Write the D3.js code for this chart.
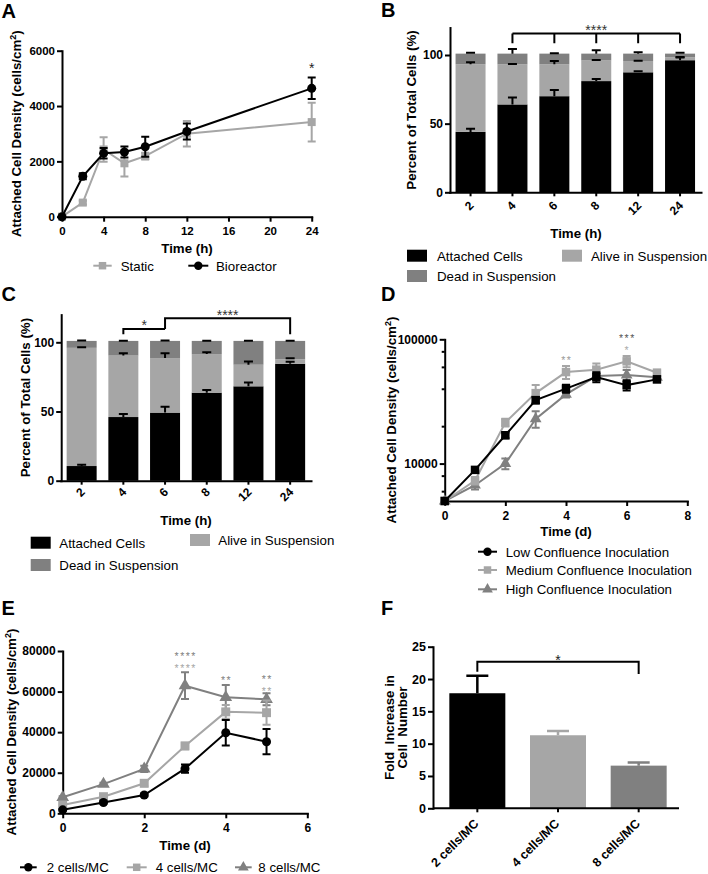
<!DOCTYPE html>
<html><head><meta charset="utf-8">
<script src="https://cdn.jsdelivr.net/npm/d3@7"></script>
<style>
body{margin:0;background:#fff;}
svg{display:block;}
</style></head><body>
<svg id="fig" width="708" height="874"></svg>
<script>
// ================= DATA =================
// Panel A
const timeA = [0, 2, 4, 6, 8, 12, 24];
const staticA = [0, 510, 2430, 1930, 2190, 3000, 3420];
const staticErrA = [0, 70, 440, 480, 120, 460, 700];
const bioA = [0, 1460, 2290, 2340, 2530, 3080, 4640];
const bioErrA = [0, 110, 190, 200, 360, 290, 390];
const xTicksA = [0, 4, 8, 12, 16, 20, 24];
const yTicksA = [0, 2000, 4000, 6000];

// Panel B (stacked %, segment heights)
const timeCats = ["2", "4", "6", "8", "12", "24"];
const attachedB = [44, 64, 70, 81, 87.4, 96.2];
const attachedErrB = [2.2, 5, 4.5, 1.5, 0.8, 2];
const aliveB = [49.2, 29.2, 23.2, 15, 8.2, 2.1];
const aliveErrB = [1.5, 0.3, 2.4, 0.3, 0.3, 0.2];
const deadB = [7.8, 7.8, 7.8, 5, 5.4, 2.7];
const deadErrB = [0.7, 3.4, 0.3, 2.4, 1, 0.7];

// Panel C
const attachedC = [10.6, 46, 49.2, 63.6, 68.2, 84.5];
const attachedErrC = [1, 2.2, 4.3, 1.9, 2.8, 1.5];
const aliveC = [85.4, 44.4, 39.4, 27.9, 15.6, 3.2];
const aliveErrC = [0.5, 1.7, 3.5, 1.4, 2.4, 0.7];
const deadC = [5, 10.6, 12.4, 9.5, 17.2, 13.3];
const deadErrC = [0.3, 0.2, 0.3, 0.2, 0.2, 0.2];
const yTicksPct = [0, 50, 100];

// Panel D (log scale)
const timeD = [0, 1, 2, 3, 4, 5, 6, 7];
const lowD = [5000, 8900, 16900, 32400, 40100, 49700, 42800, 47600];
const lowErrD = [0, 500, 900, 2000, 3000, 4500, 4000, 2500];
const medD = [5000, 7300, 21400, 36900, 54500, 57000, 66500, 53800];
const medErrD = [0, 500, 1500, 6000, 6500, 7000, 7000, 3000];
const highD = [5000, 6700, 10000, 22900, 36000, 50600, 51500, 49400];
const highErrD = [0, 500, 1000, 3500, 2000, 3000, 5000, 2500];
const xTicksD = [0, 2, 4, 6, 8];
const yTicksD = [10000, 100000];
const yMinorD = [6000, 8000, 20000, 40000, 60000, 80000];

// Panel E
const timeE = [0, 1, 2, 3, 4, 5];
const c2E = [1700, 5300, 9000, 22000, 39700, 35300];
const c2ErrE = [300, 500, 700, 2000, 6300, 6200];
const c4E = [4100, 8200, 14800, 33200, 50000, 49600];
const c4ErrE = [400, 700, 1500, 1600, 3400, 6000];
const c8E = [7900, 14400, 21900, 62900, 57200, 56200];
const c8ErrE = [500, 600, 1500, 6600, 6000, 3000];
const xTicksE = [0, 2, 4, 6];
const yTicksE = [0, 20000, 40000, 60000, 80000];

// Panel F
const groupsF = ["2 cells/MC", "4 cells/MC", "8 cells/MC"];
const foldF = [17.8, 11.3, 6.6];
const foldErrF = [2.7, 0.66, 0.5];
const yTicksF = [0, 5, 10, 15, 20, 25];

// ================= DRAWING =================
const FONT = '"Liberation Sans", Arial, Helvetica, sans-serif';
const BLACK = "#000", LIGHT = "#a6a6a6", MID = "#808080";
const svg = d3.select("#fig").attr("font-family", FONT);

function addAxis(axis, tx, ty, fs) {
  const a = svg.append("g").attr("transform", `translate(${tx},${ty})`).call(axis);
  a.attr("font-family", FONT).attr("font-size", fs).attr("font-weight", "bold");
  a.select(".domain").attr("stroke", "#000").attr("stroke-width", 2).attr("stroke-linecap", "square");
  a.selectAll(".tick line").attr("stroke", "#000").attr("stroke-width", 2);
  a.selectAll(".tick text").attr("fill", "#000");
  return a;
}
function label(x, y, t) {
  svg.append("text").attr("x", x).attr("y", y).attr("font-size", 20).attr("font-weight", "bold").text(t);
}
function xTitle(x, y, t) {
  svg.append("text").attr("x", x).attr("y", y).attr("text-anchor", "middle")
    .attr("font-size", 13.3).attr("font-weight", "bold").text(t);
}
function yTitle(x, y, t, sup) {
  const tx = svg.append("text").attr("transform", `translate(${x},${y}) rotate(-90)`)
    .attr("text-anchor", "middle").attr("font-size", 13.3).attr("font-weight", "bold");
  tx.append("tspan").text(t);
  if (sup) {
    tx.append("tspan").attr("dy", -5).attr("font-size", 9).text("2");
    tx.append("tspan").attr("dy", 5).text(")");
  }
}
// significance asterisks; centerY = visual centre of the asterisk glyphs
function stars(x, centerY, s, color, fs, ls) {
  fs = fs || 14; ls = ls || 0;
  svg.append("text").attr("x", x + ls / 2).attr("y", centerY + 0.57 * fs).attr("text-anchor", "middle")
    .attr("font-size", fs).attr("letter-spacing", ls).attr("fill", color).text(s);
}
function bracket(d) {
  svg.append("path").attr("d", d).attr("fill", "none").attr("stroke", "#000").attr("stroke-width", 2);
}
function series(xs, ys, errs, x, y, color, shape, area, capW) {
  const g = svg.append("g");
  g.append("path").datum(ys.map((v, i) => [xs[i], v]))
    .attr("d", d3.line().x(d => x(d[0])).y(d => y(d[1])))
    .attr("fill", "none").attr("stroke", color).attr("stroke-width", 2);
  ys.forEach((v, i) => {
    const e = errs[i]; if (!e) return;
    const cx = x(xs[i]), yt = y(v + e), yb = y(v - e), h = capW / 2;
    g.append("path").attr("d", `M${cx},${yt}V${yb}M${cx - h},${yt}H${cx + h}M${cx - h},${yb}H${cx + h}`)
      .attr("stroke", color).attr("stroke-width", 2).attr("fill", "none");
  });
  g.selectAll(null).data(ys).enter().append("path")
    .attr("transform", (d, i) => `translate(${x(xs[i])},${y(d)})`)
    .attr("d", d3.symbol().type(shape).size(area)).attr("fill", color);
}
function legendLine(x1, x2, y, color, shape, area, text, tx) {
  svg.append("line").attr("x1", x1).attr("x2", x2).attr("y1", y).attr("y2", y)
    .attr("stroke", color).attr("stroke-width", 2);
  svg.append("path").attr("transform", `translate(${(x1 + x2) / 2},${y})`)
    .attr("d", d3.symbol().type(shape).size(area)).attr("fill", color);
  svg.append("text").attr("x", tx).attr("y", y + 4.8).attr("font-size", 13.3).text(text);
}
function legendBox(x, y, color, text, tx) {
  svg.append("rect").attr("x", x).attr("y", y - 6).attr("width", 20).attr("height", 12).attr("fill", color);
  svg.append("text").attr("x", tx).attr("y", y + 4.8).attr("font-size", 13.3).text(text);
}

// ---------- Panel A ----------
{
  const x = d3.scaleLinear().domain([0, 24]).range([62, 311.7]);
  const y = d3.scaleLinear().domain([0, 6000]).range([216.7, 50.7]);
  addAxis(d3.axisBottom(x).tickValues(xTicksA).tickSize(5).tickPadding(5).tickSizeOuter(0), 0, 216.7, 11.5);
  addAxis(d3.axisLeft(y).tickValues(yTicksA).tickSize(5).tickPadding(2).tickSizeOuter(0).tickFormat(d3.format("d")), 62, 0, 11.5);
  series(timeA, staticA, staticErrA, x, y, LIGHT, d3.symbolSquare, 64, 8);
  series(timeA, bioA, bioErrA, x, y, BLACK, d3.symbolCircle, 64, 8);
  stars(x(24), 65, "*", "#222", 14);
  xTitle(187, 252.5, "Time (h)");
  yTitle(21, 133.7, "Attached Cell Density (cells/cm", true);
  legendLine(93.3, 111.7, 265.7, LIGHT, d3.symbolSquare, 56, "Static", 120.7);
  legendLine(188.3, 208.3, 265.7, BLACK, d3.symbolCircle, 56, "Bioreactor", 216);
  label(1.5, 18.3, "A");
}

// ---------- stacked bar helper ----------
function stackedPanel(opts) {
  const { x0, x1, yb, y100, attached, attErr, alive, aliveErr, dead, deadErr, labOff } = opts;
  const x = d3.scaleBand().domain(timeCats).range([x0, x1]);
  const y = d3.scaleLinear().domain([0, 100]).range([yb, y100]);
  const yTopVal = 120;
  const yAx = d3.scaleLinear().domain([0, yTopVal]).range([yb, y(yTopVal)]);
  const barW = 30;
  const segs = [[attached, attErr, BLACK], [alive, aliveErr, LIGHT], [dead, deadErr, MID]];
  const g = svg.append("g");
  timeCats.forEach((c, i) => {
    const cx = x(c) + x.bandwidth() / 2;
    let base = 0;
    segs.forEach(([vals, errs, col]) => {
      g.append("rect").attr("x", cx - barW / 2).attr("width", barW)
        .attr("y", y(base + vals[i])).attr("height", y(base) - y(base + vals[i])).attr("fill", col);
      base += vals[i];
    });
  });
  timeCats.forEach((c, i) => {
    const cx = x(c) + x.bandwidth() / 2;
    let base = 0;
    segs.forEach(([vals, errs]) => {
      base += vals[i];
      const yt = y(base), ye = y(base + errs[i]);
      g.append("path").attr("d", `M${cx},${yt}V${ye}M${cx - 4.5},${ye}H${cx + 4.5}`)
        .attr("stroke", "#000").attr("stroke-width", 2).attr("fill", "none");
    });
  });
  addAxis(d3.axisLeft(yAx).tickValues(yTicksPct).tickSize(5).tickPadding(2).tickSizeOuter(0), x0 + 0.4, 0, 12);
  const ax = addAxis(d3.axisBottom(x).tickSize(4).tickSizeOuter(0), 0, yb, 12);
  ax.selectAll(".tick text").attr("text-anchor", "end").attr("dy", "0.35em")
    .attr("transform", `translate(1,${labOff}) rotate(-45)`).attr("y", 0);
  return x;
}

// ---------- Panel B ----------
{
  const x = stackedPanel({ x0: 449.6, x1: 701, yb: 192.3, y100: 55, attached: attachedB, attErr: attachedErrB,
    alive: aliveB, aliveErr: aliveErrB, dead: deadB, deadErr: deadErrB, labOff: 11 });
  const cx = c => x(c) + x.bandwidth() / 2;
  bracket(`M${cx("4")},33.5H${cx("24")}` + ["4", "6", "8", "12", "24"].map(c => `M${cx(c)},33.5V43.3`).join(""));
  stars(cx("8"), 27, "****", "#333", 14);
  xTitle(576, 237.5, "Time (h)");
  yTitle(415.5, 110, "Percent of Total Cells (%)");
  legendBox(407, 255.7, BLACK, "Attached Cells", 437);
  legendBox(562, 255.7, LIGHT, "Alive in Suspension", 591);
  legendBox(407, 276, MID, "Dead in Suspension", 437);
  label(381, 17, "B");
}

// ---------- Panel C ----------
{
  const x = stackedPanel({ x0: 60.8, x1: 311, yb: 480.7, y100: 342.3, attached: attachedC, attErr: attachedErrC,
    alive: aliveC, aliveErr: aliveErrC, dead: deadC, deadErr: deadErrC, labOff: 9 });
  const cx = c => x(c) + x.bandwidth() / 2;
  bracket(`M${cx("4")},334.3V329H${cx("6")}`);
  bracket(`M${cx("6")},329V318.3H${cx("24")}V334.3`);
  stars((cx("4") + cx("6")) / 2, 321.7, "*", "#333", 14);
  stars((cx("6") + cx("24")) / 2, 311.7, "****", "#333", 14);
  xTitle(186, 524.5, "Time (h)");
  yTitle(29.5, 397.6, "Percent of Total Cells (%)");
  legendBox(30.7, 542.7, BLACK, "Attached Cells", 59.3);
  legendBox(190, 540, LIGHT, "Alive in Suspension", 218.3);
  legendBox(30.7, 565, MID, "Dead in Suspension", 59.3);
  label(1.5, 301, "C");
}

// ---------- Panel D ----------
{
  const x = d3.scaleLinear().domain([0, 8]).range([444.7, 687.3]);
  const y = d3.scaleLog().domain([5000, 100000]).range([501, 339.3]);
  addAxis(d3.axisBottom(x).tickValues(xTicksD).tickSize(5).tickPadding(5).tickSizeOuter(0).tickFormat(d3.format("d")), 0, 501, 12);
  addAxis(d3.axisLeft(y).tickValues(yTicksD).tickSize(5).tickPadding(2).tickSizeOuter(0).tickFormat(d3.format("d")), 444.7, 0, 12);
  const minor = addAxis(d3.axisLeft(y).tickValues(yMinorD).tickSize(3).tickFormat("").tickSizeOuter(0), 444.7, 0, 12);
  minor.select(".domain").remove();
  series(timeD, highD, highErrD, x, y, MID, d3.symbolTriangle, 60, 8);
  series(timeD, medD, medErrD, x, y, LIGHT, d3.symbolSquare, 72, 8);
  series(timeD, lowD, lowErrD, x, y, BLACK, d3.symbolSquare, 72, 8);
  stars(x(4), 357.7, "**", "#999", 10.5, 1.5);
  stars(x(6), 336, "***", "#555", 10.5, 1.5);
  stars(x(6), 348, "*", "#aaa", 10.5, 1.5);
  xTitle(566, 536, "Time (d)");
  yTitle(396, 420, "Attached Cell Density (cells/cm", true);
  legendLine(478, 497, 551.7, BLACK, d3.symbolCircle, 56, "Low Confluence Inoculation", 505.7);
  legendLine(478, 497, 570, LIGHT, d3.symbolSquare, 56, "Medium Confluence Inoculation", 505.7);
  legendLine(478, 497, 589.3, MID, d3.symbolTriangle, 50, "High Confluence Inoculation", 505.7);
  label(381, 301, "D");
}

// ---------- Panel E ----------
{
  const x = d3.scaleLinear().domain([0, 6]).range([62.7, 307.3]);
  const y = d3.scaleLinear().domain([0, 80000]).range([813.3, 651]);
  addAxis(d3.axisBottom(x).tickValues(xTicksE).tickSize(5).tickPadding(5).tickSizeOuter(0).tickFormat(d3.format("d")), 0, 813.3, 12);
  addAxis(d3.axisLeft(y).tickValues(yTicksE).tickSize(5).tickPadding(2).tickSizeOuter(0).tickFormat(d3.format("d")), 62.7, 0, 12);
  series(timeE, c8E, c8ErrE, x, y, MID, d3.symbolTriangle, 70, 8);
  series(timeE, c4E, c4ErrE, x, y, LIGHT, d3.symbolSquare, 80, 8);
  series(timeE, c2E, c2ErrE, x, y, BLACK, d3.symbolCircle, 64, 8);
  stars(x(3), 654.5, "****", MID, 10.5, 1.5);
  stars(x(3), 666.5, "****", LIGHT, 10.5, 1.5);
  stars(x(4), 678, "**", MID, 10.5, 1.5);
  stars(x(5), 677, "**", MID, 10.5, 1.5);
  stars(x(5), 689, "**", LIGHT, 10.5, 1.5);
  xTitle(185, 850, "Time (d)");
  yTitle(16, 732, "Attached Cell Density (cells/cm", true);
  legendLine(20, 36.7, 867.3, BLACK, d3.symbolCircle, 56, "2 cells/MC", 46.7);
  legendLine(126.7, 146.7, 867.3, LIGHT, d3.symbolSquare, 56, "4 cells/MC", 155.7);
  legendLine(235, 251.7, 867.3, MID, d3.symbolTriangle, 50, "8 cells/MC", 258.3);
  label(1.5, 615, "E");
}

// ---------- Panel F ----------
{
  const x = d3.scaleBand().domain(groupsF).range([437, 679]);
  const y = d3.scaleLinear().domain([0, 25]).range([808.3, 646.7]);
  const colors = [BLACK, LIGHT, MID];
  const barW = 56;
  const cx = g => x(g) + x.bandwidth() / 2;
  groupsF.forEach((g, i) => {
    svg.append("rect").attr("x", cx(g) - barW / 2).attr("width", barW)
      .attr("y", y(foldF[i])).attr("height", y(0) - y(foldF[i])).attr("fill", colors[i]);
    const yt = y(foldF[i]), ye = y(foldF[i] + foldErrF[i]);
    svg.append("path").attr("d", `M${cx(g)},${yt}V${ye}M${cx(g) - 11},${ye}H${cx(g) + 11}`)
      .attr("stroke", colors[i]).attr("stroke-width", 2.5).attr("fill", "none");
  });
  addAxis(d3.axisLeft(y).tickValues(yTicksF).tickSize(5).tickPadding(2).tickSizeOuter(0), 433, 0, 12.5);
  const ax = addAxis(d3.axisBottom(x).tickSize(4).tickSizeOuter(0), 0, 808.3, 12.5);
  ax.select(".domain").remove();
  svg.append("line").attr("x1", 433).attr("x2", 679).attr("y1", 808.3).attr("y2", 808.3)
    .attr("stroke", "#000").attr("stroke-width", 2);
  ax.selectAll(".tick text").attr("text-anchor", "end").attr("dy", "0.35em")
    .attr("transform", "translate(-1,13) rotate(-45)").attr("y", 0);
  bracket(`M${cx(groupsF[0])},671.7V661.7H${cx(groupsF[2])}V674`);
  stars((cx(groupsF[0]) + cx(groupsF[2])) / 2, 656.7, "*", "#222", 14);
  const t = svg.append("text").attr("transform", "translate(0,727.5) rotate(-90)")
    .attr("text-anchor", "middle").attr("font-size", 13.3).attr("font-weight", "bold");
  t.append("tspan").attr("x", 0).attr("y", 393.5).text("Fold\u00a0 Increase in");
  t.append("tspan").attr("x", 0).attr("y", 406.5).text("Cell\u00a0 Number");
  label(381, 615, "F");
}
</script></body></html>
